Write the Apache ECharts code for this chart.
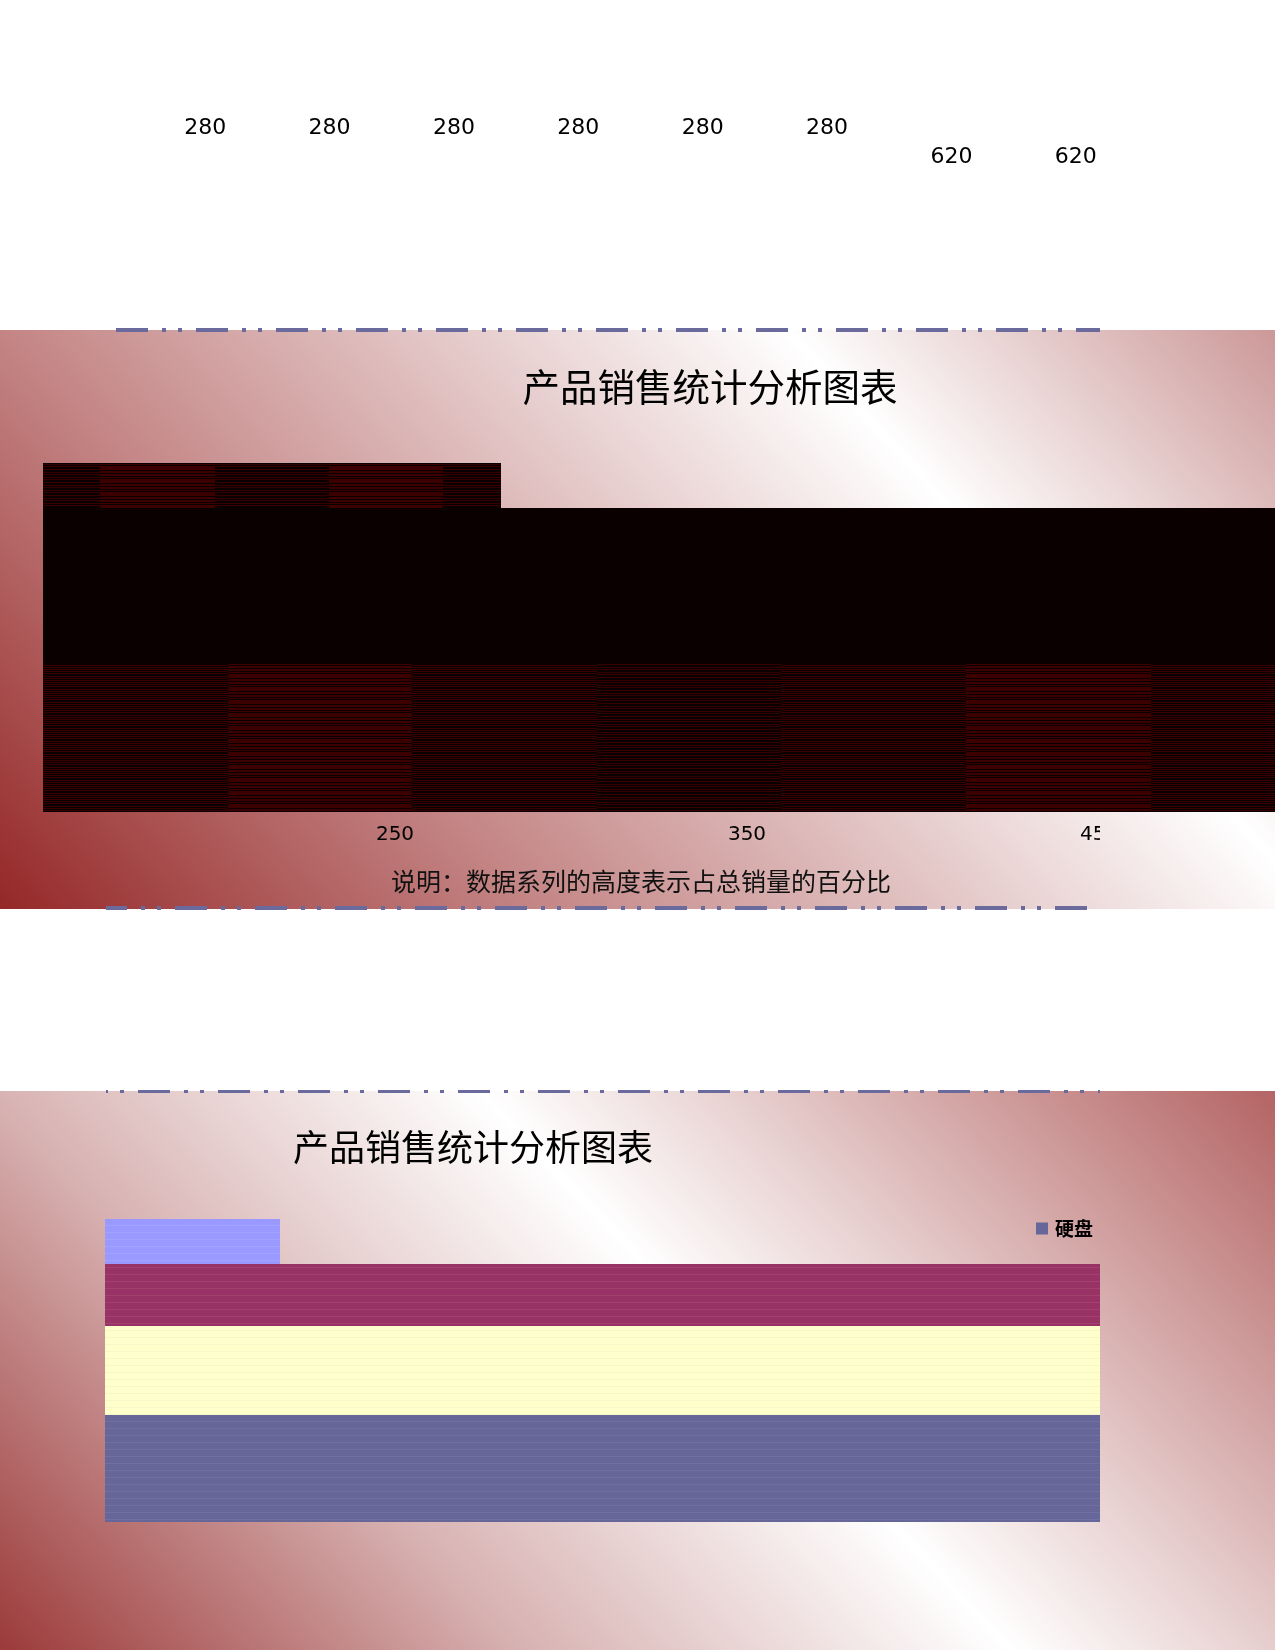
<!DOCTYPE html>
<html><head><meta charset="utf-8">
<script src="https://cdn.jsdelivr.net/npm/echarts/dist/echarts.min.js"></script>
<style>html,body{margin:0;padding:0;background:#fff}#c{width:1275px;height:1650px}</style>
</head><body><div id="c"></div>
<script>
// ---------- data ----------
const topCategories = ['1', '2', '3', '4', '5', '6', '7', '8'];
const topValues = [280, 280, 280, 280, 280, 280, 620, 620];

const midTickLabels = [250, 350, 450];
const midRowShare = [42.4, 44.7, 12.9];           // bottom row, middle band, top row (% of height)
const midTopCellWidths = [16.25, 16.25, 16.25, 16.25, 16.25, 16.25, 16.25, 16.25];
const midBottomCellWidths = [52.45, 52.45, 52.45, 52.45, 52.45, 52.45, 52.45];

const bandNames = ['硬盘', '系列2', '系列3', '系列4'];
const bandShare = [35.3, 29.4, 20.5, 14.8];
const bandSpan = [100, 100, 100, 17.6];

const titleText = '产品销售统计分析图表';
const captionText = '说明：数据系列的高度表示占总销量的百分比';

// ---------- styles ----------
function stripePattern(base, line, rows, period) {
  const c = document.createElement('canvas');
  c.width = 8; c.height = period;
  const ctx = c.getContext('2d');
  ctx.fillStyle = base; ctx.fillRect(0, 0, 8, period);
  ctx.fillStyle = line;
  rows.forEach(r => ctx.fillRect(0, r, 8, 1));
  return { image: c, repeat: 'repeat' };
}
const darkPat = stripePattern('#0b0000', '#360000', [1, 4, 6, 9, 11], 13);
const redPat = stripePattern('#0b0000', '#3c0000', [0, 1, 3, 4, 6, 7, 9, 11, 12], 13);
const midPat = stripePattern('#0b0000', '#380000', [0, 2, 4, 6, 8, 10], 13);
const midTopTone = [darkPat, redPat, redPat, darkPat, darkPat, redPat, redPat, darkPat];
const midBottomTone = [midPat, redPat, midPat, darkPat, midPat, redPat, midPat];
const bandPats = [
  stripePattern('#666699', '#7070a4', [0], 7),
  stripePattern('#ffffcc', '#f6f6c6', [0], 7),
  stripePattern('#993366', '#a2416e', [0], 7),
  stripePattern('#9999ff', '#a3a3ff', [0], 7)
];
const bandColors = ['#666699', '#ffffcc', '#993366', '#9999ff'];

const grad2 = () => new echarts.graphic.LinearGradient(0, 909, 979, 8, [
  { offset: 0, color: '#952828' }, { offset: 0.29, color: '#c38383' },
  { offset: 0.73, color: '#ffffff' }, { offset: 1, color: '#cc9898' }], true);
const grad3 = () => new echarts.graphic.LinearGradient(0, 1650, 949, 748, [
  { offset: 0, color: '#9c3a3a' }, { offset: 0.29, color: '#d8b2b2' },
  { offset: 0.56, color: '#ffffff' }, { offset: 0.71, color: '#e6cccc' }, { offset: 1, color: '#b46464' }], true);

// ---------- build mark data ----------
const midData = [];
const midTones = [];
let x = 150;
midBottomCellWidths.forEach((w, i) => { midData.push([x, x + w, 0, midRowShare[0]]); midTones.push(midBottomTone[i]); x += w; });
midData.push([150, 500, midRowShare[0], midRowShare[0] + midRowShare[1]]); midTones.push('#0a0000');
x = 150;
midTopCellWidths.forEach((w, i) => { midData.push([x, x + w, midRowShare[0] + midRowShare[1], midRowShare[0] + midRowShare[1] + midRowShare[2]]); midTones.push(midTopTone[i]); x += w; });

function rectItem(fillFor) {
  return function (params, api) {
    const p0 = api.coord([api.value(0), api.value(3)]);
    const p1 = api.coord([api.value(1), api.value(2)]);
    const x0 = Math.round(p0[0]), y0 = Math.round(p0[1]), x1 = Math.round(p1[0]), y1 = Math.round(p1[1]);
    return { type: 'rect', shape: { x: x0, y: y0, width: x1 - x0, height: y1 - y0 },
      style: { fill: fillFor(params.dataIndex) } };
  };
}

let base = 0;
const bandSeries = bandNames.map((name, i) => {
  const d = [[0, bandSpan[i], base, base + bandShare[i]]];
  base += bandShare[i];
  return { type: 'custom', name: name, coordinateSystem: 'cartesian2d', xAxisIndex: 2, yAxisIndex: 2,
    itemStyle: { color: bandColors[i] }, data: d, renderItem: rectItem(() => bandPats[i]) };
});

const chart = echarts.init(document.getElementById('c'), null, { renderer: 'canvas' });
chart.setOption({
  animation: false,
  backgroundColor: '#ffffff',
  grid: [
    { left: 143, width: 995, top: 104, height: 85.3 },
    { left: 43, width: 1235.5, top: 463, height: 349 },
    { left: 105, width: 995, top: 1219, height: 303 }
  ],
  xAxis: [
    { gridIndex: 0, type: 'category', data: topCategories, show: false },
    { gridIndex: 1, type: 'value', min: 150, max: 500, interval: 100, z: 10,
      axisLine: { show: false }, axisTick: { show: false }, splitLine: { show: false },
      axisLabel: { showMinLabel: false, showMaxLabel: false, margin: 13, color: '#000', fontSize: 20,
        fontFamily: 'DejaVu Sans', formatter: v => midTickLabels.indexOf(v) >= 0 ? String(v) : '' } },
    { gridIndex: 2, type: 'value', min: 0, max: 100, show: false }
  ],
  yAxis: [
    { gridIndex: 0, type: 'value', inverse: true, min: 0, max: 1000, show: false },
    { gridIndex: 1, type: 'value', min: 0, max: 100, show: false },
    { gridIndex: 2, type: 'value', min: 0, max: 100, show: false }
  ],
  legend: {
    data: ['硬盘'], left: 1036, top: 1219, padding: 0, icon: 'rect', itemWidth: 12, itemHeight: 12, itemGap: 5,
    textStyle: { fontSize: 19, fontWeight: 'bold', color: '#000', fontFamily: 'Noto Sans CJK SC', padding: [2, 0, 0, 2] }
  },
  graphic: [
    { type: 'rect', z: -100, shape: { x: 0, y: 330, width: 1275, height: 579 }, style: { fill: grad2() } },
    { type: 'rect', z: -100, shape: { x: 0, y: 1091, width: 1275, height: 559 }, style: { fill: grad3() } },
    { type: 'rect', z: 50, shape: { x: 1100, y: 816, width: 175, height: 38 }, style: { fill: grad2() } },
    { type: 'line', z: 60, shape: { x1: 116, y1: 330, x2: 1100, y2: 330 },
      style: { stroke: '#6a6a9c', lineWidth: 4, lineDash: [32, 14, 4, 12, 4, 14], lineDashOffset: 0 } },
    { type: 'line', z: 60, shape: { x1: 106, y1: 908, x2: 1100, y2: 908 },
      style: { stroke: '#6a6a9c', lineWidth: 4, lineDash: [32, 14, 4, 12, 4, 14], lineDashOffset: 11 } },
    { type: 'line', z: 60, shape: { x1: 106, y1: 1091.5, x2: 1100, y2: 1091.5 },
      style: { stroke: '#6a6a9c', lineWidth: 3, lineDash: [32, 14, 4, 12, 4, 14], lineDashOffset: 48 } },
    { type: 'text', z: 60, style: { text: titleText, x: 710, y: 387, textAlign: 'center', textVerticalAlign: 'middle',
      fill: '#000', font: '37.5px "Noto Sans CJK SC"' } },
    { type: 'text', z: 60, style: { text: captionText, x: 641, y: 881, textAlign: 'center', textVerticalAlign: 'middle',
      fill: '#111', font: '25px "Noto Sans CJK SC"' } },
    { type: 'text', z: 60, style: { text: titleText, x: 473, y: 1147, textAlign: 'center', textVerticalAlign: 'middle',
      fill: '#000', font: '36px "Noto Sans CJK SC"' } }
  ],
  series: [
    { type: 'scatter', xAxisIndex: 0, yAxisIndex: 0, data: topValues, symbolSize: 2,
      itemStyle: { color: 'rgba(0,0,0,0)' },
      label: { show: true, position: 'inside', formatter: p => String(p.value), color: '#000', fontSize: 22,
        textBorderWidth: 0, opacity: 1, fontFamily: 'DejaVu Sans' } },
    { type: 'custom', name: 'mid', coordinateSystem: 'cartesian2d', xAxisIndex: 1, yAxisIndex: 1,
      data: midData, renderItem: rectItem(i => midTones[i]) }
  ].concat(bandSeries)
});
</script></body></html>
